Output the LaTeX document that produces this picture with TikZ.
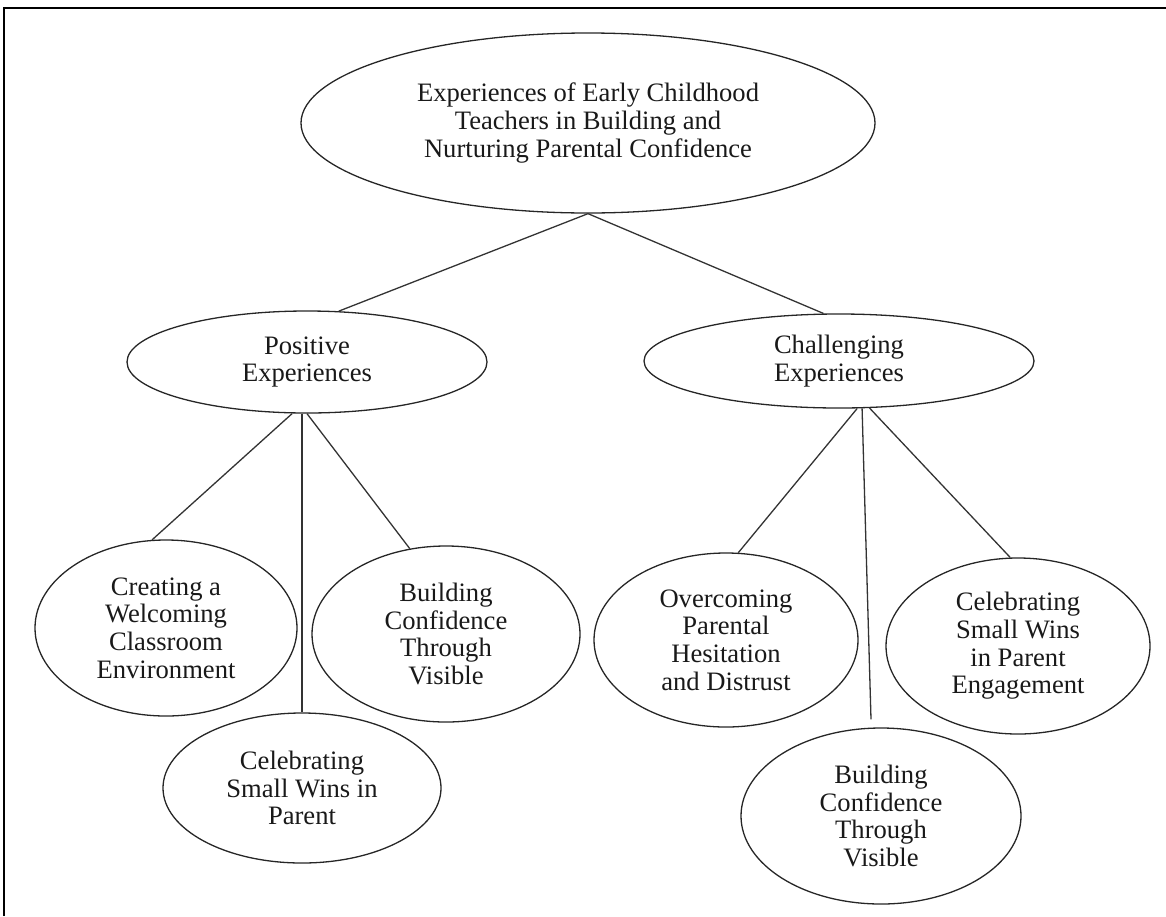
\documentclass[tikz,border=0pt]{standalone}
\usepackage{fontspec}
\setmainfont{Liberation Serif}
\usetikzlibrary{shapes.geometric}

\begin{document}
\begin{tikzpicture}[x=0.5pt, y=-0.5pt,
        oval/.style 2 args={draw=black!85, ellipse, line width=0.65pt, inner sep=0pt, align=center,
                            minimum width=#1pt, minimum height=#2pt, text=black!90,
                            font=\fontsize{13.3}{13.8}\selectfont},
        link/.style={draw=black!80, line width=0.65pt},
        ]
    \useasboundingbox (0,0) rectangle (1166,916);
    \draw[line width=1.2pt] (4,916) -- (4,8) -- (1166,8);

    \node[oval={287}{90}] (top) at (588,123) {Experiences of Early Childhood\\Teachers in Building and\\Nurturing Parental Confidence};
    \node[oval={180}{51}] (pos) at (307,362) {Positive\\Experiences};
    \node[oval={195}{47}] (chal) at (839,361) {Challenging\\Experiences};

    \node[oval={131}{88}] (creat) at (166,628) {Creating a\\Welcoming\\Classroom\\Environment};
    \node[oval={139}{75}] (cel1) at (302,788) {Celebrating\\Small Wins in\\Parent};
    \node[oval={134}{88}] (bld1) at (446,634) {Building\\Confidence\\Through\\Visible};

    \node[oval={132}{87}] (over) at (726,640) {Overcoming\\Parental\\Hesitation\\and Distrust};
    \node[oval={140}{88}] (bld2) at (881,816) {Building\\Confidence\\Through\\Visible};
    \node[oval={132}{88}] (cel2) at (1018,646) {Celebrating\\Small Wins\\in Parent\\Engagement};
    \coordinate (bld2gap) at ([shift={(-10,-8)}]bld2.north);

    \draw[link] (top.south) -- (pos.58);
    \draw[link] (top.south) -- (chal.108);
    \draw[link] (pos.254) -- (creat.99);
    \draw[link] (pos.south -| cel1.north) -- (cel1.north);
    \draw[link] (pos.south) -- (bld1.113);
    \draw[link] (chal.291) -- (over.82);
    \draw[link] (chal.296) -- (bld2gap);
    \draw[link] (chal.303) -- (cel2.95);
\end{tikzpicture}
\end{document}
